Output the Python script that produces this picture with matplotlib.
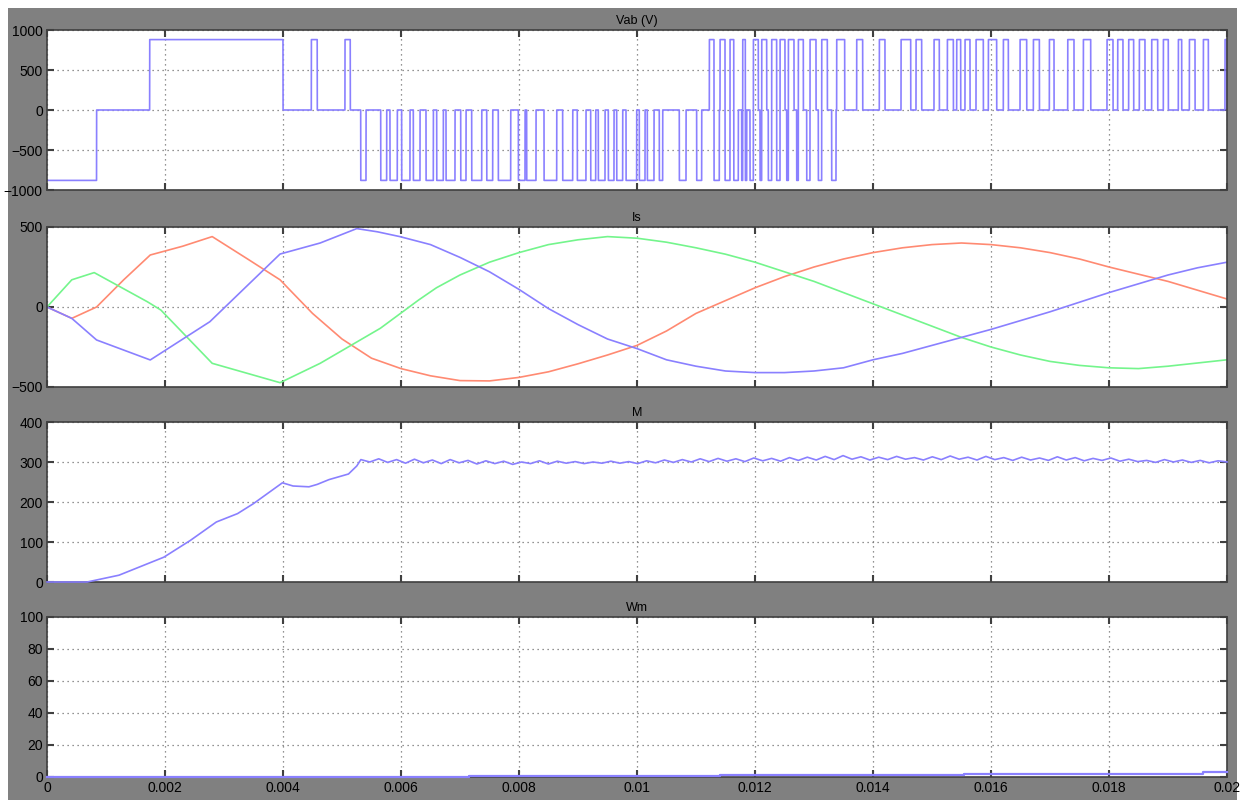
import numpy as np
import matplotlib.pyplot as plt
from matplotlib.patches import Rectangle

plt.rcParams['font.family'] = ['Liberation Sans', 'DejaVu Sans']

# ---------------- data (times in ms) ----------------
# Vab: base steps, then negative and positive PWM pulses
vab_step_t = [0.0, 0.84, 1.74, 4.00]
vab_step_v = [-880, 0, 880, 0]
vdc = 880
vab_neg = [(5.317, 5.407), (5.656, 5.757), (5.813, 5.937), (6.011, 6.152), (6.209, 6.322),
           (6.424, 6.548), (6.605, 6.717), (6.763, 6.915), (7.012, 7.102), (7.198, 7.368),
           (7.453, 7.554), (7.649, 7.859), (7.989, 8.102), (8.130, 8.288), (8.424, 8.639),
           (8.740, 8.910), (8.988, 9.135), (9.215, 9.300), (9.344, 9.458), (9.514, 9.610),
           (9.656, 9.757), (9.814, 9.994), (10.039, 10.136), (10.175, 10.288), (10.378, 10.435),
           (10.717, 10.831), (11.011, 11.096), (11.305, 11.395), (11.492, 11.576), (11.640, 11.717),
           (11.774, 11.859), (11.915, 12.028), (12.085, 12.170), (12.225, 12.310), (12.367, 12.452),
           (12.537, 12.622), (12.706, 12.791), (12.876, 12.961), (13.073, 13.130), (13.299, 13.373)]
vab_pos = [(4.48, 4.58), (5.05, 5.14),
           (11.226, 11.305), (11.407, 11.492), (11.576, 11.640), (11.791, 11.836), (11.972, 12.056),
           (12.113, 12.198), (12.282, 12.367), (12.424, 12.508), (12.565, 12.661), (12.734, 12.819),
           (12.932, 13.034), (13.130, 13.226), (13.384, 13.520), (13.723, 13.825), (14.107, 14.203),
           (14.475, 14.639), (14.729, 14.825), (15.034, 15.124), (15.260, 15.362), (15.418, 15.486),
           (15.559, 15.644), (15.746, 15.870), (15.955, 16.096), (16.209, 16.294), (16.492, 16.605),
           (16.718, 16.820), (16.989, 17.068), (17.300, 17.407), (17.565, 17.690), (17.966, 18.068),
           (18.147, 18.237), (18.333, 18.418), (18.514, 18.610), (18.723, 18.825), (18.921, 19.005),
           (19.175, 19.232), (19.362, 19.458), (19.599, 19.684), (19.966, 20.0)]

# Is: three phase currents
ia_t = [0, 0.42, 0.84, 1.3, 1.75, 2.3, 2.8, 3.4, 3.95, 4.5, 5.0, 5.5, 6.0, 6.5, 7.0, 7.5, 8.0,
        8.5, 9.0, 9.5, 10, 10.5, 11, 11.5, 12, 12.5, 13, 13.5, 14, 14.5, 15, 15.5, 16, 16.5, 17,
        17.5, 18, 18.5, 19, 19.5, 20]
ia_v = [0, -71, 0, 170, 325, 380, 440, 300, 170, -40, -200, -320, -385, -430, -460, -462, -440,
        -405, -355, -300, -240, -150, -40, 40, 120, 190, 250, 300, 340, 370, 390, 400, 390, 370,
        340, 300, 250, 205, 160, 105, 50]
ib_t = [0, 0.42, 0.84, 1.75, 2.76, 3.3, 3.95, 4.63, 5.25, 5.6, 5.98, 6.5, 7, 7.5, 8, 8.5, 9, 9.5,
        10, 10.5, 11, 11.5, 12, 12.5, 13, 13.5, 14, 14.5, 15, 15.5, 16, 16.5, 17, 17.5, 18, 18.5,
        19, 19.5, 20]
ib_v = [0, -71, -206, -331, -92, 100, 331, 400, 490, 470, 440, 390, 310, 220, 110, -10, -110,
        -200, -260, -330, -370, -400, -410, -410, -400, -380, -330, -290, -240, -190, -140, -85,
        -30, 30, 90, 145, 200, 245, 280]
ic_t = [0, 0.42, 0.8, 1.7, 1.93, 2.8, 3.95, 4.63, 5.65, 6.3, 6.6, 7, 7.5, 8, 8.5, 9, 9.5, 10,
        10.5, 11, 11.5, 12, 12.5, 13, 13.5, 14, 14.5, 15, 15.5, 16, 16.5, 17, 17.5, 18, 18.5, 19,
        19.5, 20]
ic_v = [0, 170, 215, 33, -19, -352, -473, -352, -133, 44, 120, 200, 280, 340, 390, 420, 440, 430,
        405, 370, 330, 280, 220, 160, 90, 20, -50, -120, -190, -250, -300, -340, -365, -380, -385,
        -370, -350, -330]

# M: electromagnetic torque
m_head_t = [0, 0.68, 1.22, 1.98, 2.43, 2.87, 3.23, 3.5, 3.99, 4.17, 4.44, 4.58, 4.78, 5.11, 5.25]
m_head_v = [0, 0, 17, 62, 104, 150, 171, 196, 248, 240, 238, 244, 256, 270, 290]
m_tail_v = [306, 300, 308, 299, 306, 297, 307, 298, 305, 296, 306,
            298, 304, 295, 303, 296, 302, 294, 300, 296, 303, 295, 302, 297,
            301, 296, 300, 297, 302, 297, 301, 296, 303, 298, 305, 299, 306,
            300, 308, 301, 309, 302, 308, 301, 310, 303, 309, 302, 311, 304,
            312, 305, 314, 306, 316, 307, 313, 305, 312, 306, 314, 307, 311,
            305, 313, 306, 315, 307, 312, 305, 314, 306, 311, 304, 312, 305,
            310, 304, 313, 305, 311, 303, 309, 304, 310, 302, 307, 301, 304,
            299, 306, 300, 305, 299, 304, 298, 303, 300]

# Wm: rotor speed
wm_t = [0, 7.16, 11.41, 15.54, 19.6, 20]
wm_v = [0, 0.8, 1.5, 2.1, 3.3, 3.3]

titles = ['Vab (V)', 'Is', 'M', 'Wm']
yticks = [[-1000, -500, 0, 500, 1000], [-500, 0, 500], [0, 100, 200, 300, 400],
          [0, 20, 40, 60, 80, 100]]
xticks = [0, 0.002, 0.004, 0.006, 0.008, 0.01, 0.012, 0.014, 0.016, 0.018, 0.02]
xticklabels = ['0', '0.002', '0.004', '0.006', '0.008', '0.01', '0.012', '0.014', '0.016',
               '0.018', '0.02']

BLUE = '#8a80ff'
RED = '#ff8a72'
GREEN = '#74f58c'

# ---------------- build Vab trace ----------------
t = np.linspace(0, 20, 40001)
vab = np.zeros_like(t)
for ts, v in zip(vab_step_t, vab_step_v):
    vab[t >= ts] = v
for a, b in vab_neg:
    vab[(t >= a) & (t < b)] = -vdc
for a, b in vab_pos:
    vab[(t >= a) & (t < b)] = vdc

m_t = np.concatenate([m_head_t, np.linspace(5.32, 20.0, len(m_tail_v))])
m_v = np.concatenate([m_head_v, m_tail_v])

# ---------------- figure ----------------
fig = plt.figure(figsize=(12.5, 8), dpi=100)
fig.patch.set_facecolor('white')
bg = Rectangle((8 / 1250, 0), 1229 / 1250, 792 / 800, transform=fig.transFigure,
               facecolor='#808080', edgecolor='none', zorder=-10)
fig.add_artist(bg)

left, width, height = 47 / 1250, 1180 / 1250, 160 / 800
bottoms = [1 - 190 / 800, 1 - 387 / 800, 1 - 582 / 800, 1 - 777 / 800]
axes = [fig.add_axes([left, b, width, height]) for b in bottoms]

axes[0].plot(t / 1000, vab, color=BLUE, lw=1.2)
axes[1].plot(np.array(ia_t) / 1000, ia_v, color=RED, lw=1.2)
axes[1].plot(np.array(ic_t) / 1000, ic_v, color=GREEN, lw=1.2)
axes[1].plot(np.array(ib_t) / 1000, ib_v, color=BLUE, lw=1.2)
axes[2].plot(m_t / 1000, m_v, color=BLUE, lw=1.2, clip_on=False, zorder=3)
axes[3].plot(np.array(wm_t) / 1000, wm_v, color=BLUE, lw=1.6, drawstyle='steps-post',
             clip_on=False, zorder=3)

for i, ax in enumerate(axes):
    ax.set_facecolor('white')
    ax.set_xlim(0, 0.02)
    ax.set_ylim(yticks[i][0], yticks[i][-1])
    ax.set_yticks(yticks[i])
    ax.set_xticks(xticks)
    if i == 3:
        ax.set_xticklabels(xticklabels)
    else:
        ax.set_xticklabels([])
    ax.grid(True, color='#707070', linestyle=(0, (1, 3)), linewidth=0.9)
    ax.tick_params(direction='in', length=5, width=1.5, color='#404040', labelsize=10,
                   labelcolor='black', top=True, right=True, pad=3)
    for s in ax.spines.values():
        s.set_color('#404040')
        s.set_linewidth(1.2)
    ax.set_title(titles[i], fontsize=9, pad=4, color='black')

fig.savefig('out.png', dpi=100, facecolor=fig.get_facecolor())
